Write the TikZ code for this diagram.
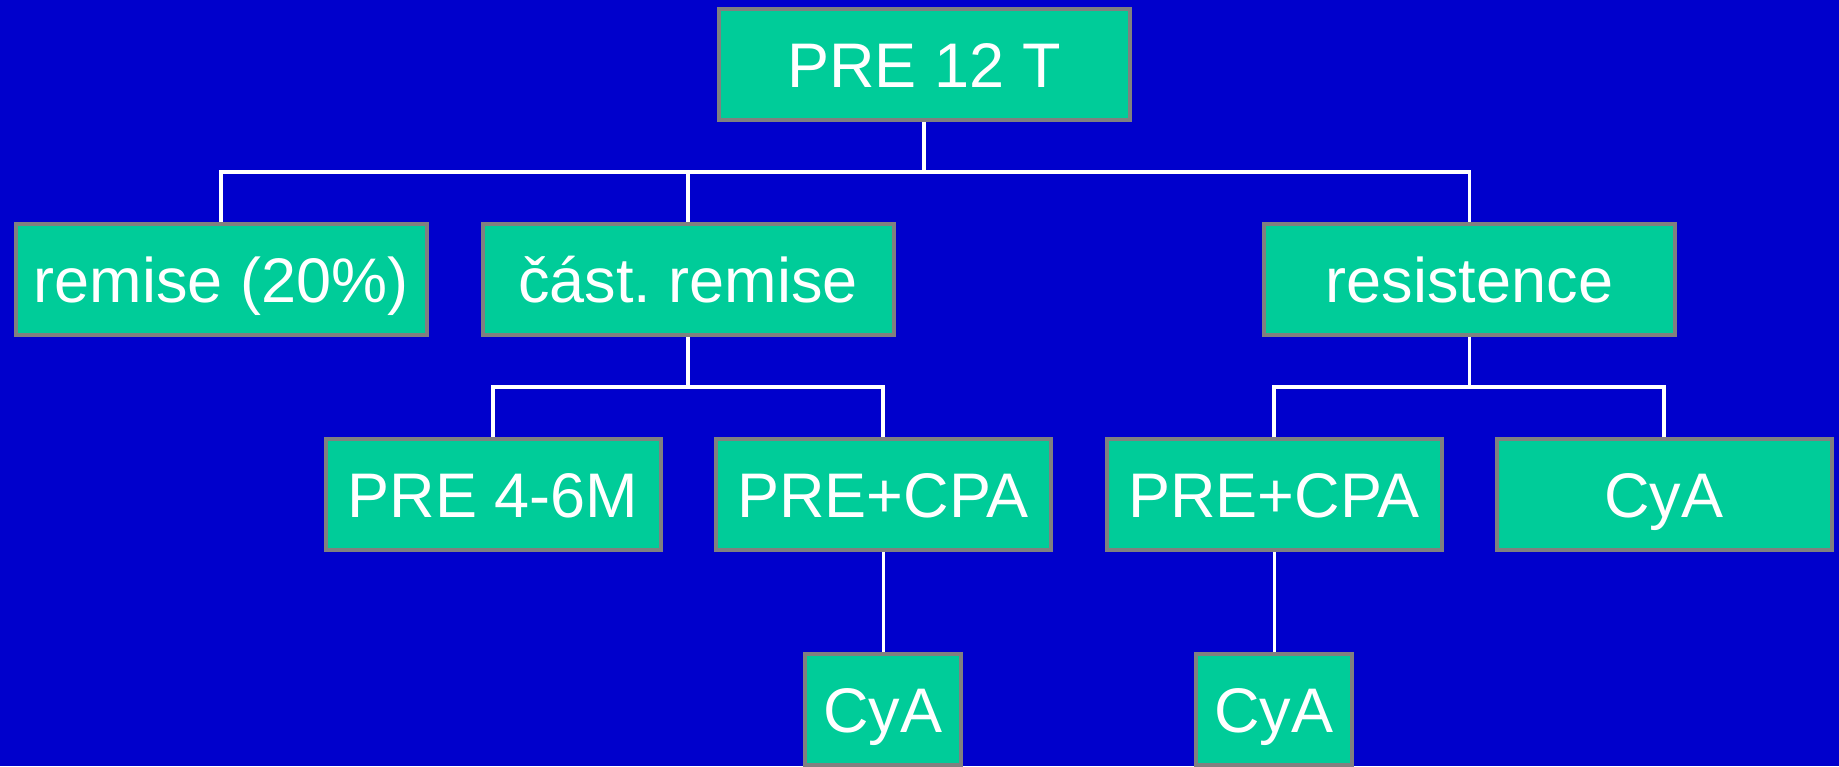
\documentclass[tikz,border=0pt]{standalone}
\usepackage{fontspec}
\setmainfont{Liberation Sans}
\definecolor{bg}{HTML}{0000CC}
\definecolor{boxfill}{HTML}{00CC99}
\definecolor{boxline}{HTML}{808080}
\frenchspacing
\begin{document}
\begin{tikzpicture}[x=1pt,y=-1pt,
  box/.style={draw=boxline,fill=boxfill,line width=4pt,text=white,
    font=\fontsize{63}{70}\selectfont,inner sep=0pt,
    minimum height=111pt,text height=45pt,text depth=0pt},
  wbox/.style={box,minimum width=411pt},
  mbox/.style={box,minimum width=335pt},
  sbox/.style={box,minimum width=156pt},
  link/.style={draw=white,line width=3.5pt}]
\useasboundingbox (0,0) rectangle (1839,766);
\clip (0,0) rectangle (1839,766);
\fill[bg] (0,0) rectangle (1839,766);
\node[wbox] (top) at (924,64.5) {PRE 12 T};
\node[wbox] (remise) at (221,279.5) {remise (20\%)};
\node[wbox] (cast) at (688,279.5) {část. remise};
\node[wbox] (resist) at (1469.5,279.5) {resistence};
\node[mbox] (pre46) at (493,494.5) {PRE 4-6M};
\node[mbox] (precpa) at (883,494.5) {PRE+CPA};
\node[mbox] (precpab) at (1274,494.5) {PRE+CPA};
\node[mbox] (cyar) at (1664,494.5) {CyA};
\node[sbox] (cyaa) at (883,709.5) {CyA};
\node[sbox] (cyab) at (1274,709.5) {CyA};
\coordinate (b1) at (924,172);
\coordinate (b2) at (688,387);
\coordinate (b3) at (1469.5,387);
\draw[link] (top.south) -- (b1);
\draw[link] (remise.north) |- (b1) -| (resist.north);
\draw[link] (cast.north) -- (cast.north |- b1);
\draw[link] (cast.south) -- (b2);
\draw[link] (pre46.north) |- (b2) -| (precpa.north);
\draw[link] (resist.south) -- (b3);
\draw[link] (precpab.north) |- (b3) -| (cyar.north);
\draw[link,line width=3pt] (precpa.south) -- (cyaa.north);
\draw[link,line width=3pt] (precpab.south) -- (cyab.north);
\end{tikzpicture}
\end{document}
